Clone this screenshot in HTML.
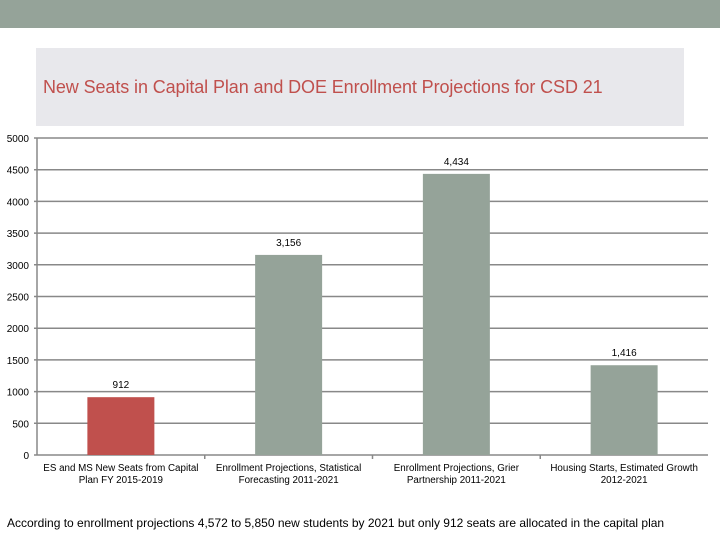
<!DOCTYPE html>
<html><head><meta charset="utf-8"><style>
body{margin:0;width:720px;height:540px;background:#fff;overflow:hidden;font-family:"Liberation Sans",sans-serif;position:relative}
</style></head><body>
<div style="position:absolute;left:0;top:0;width:720px;height:28px;background:#95a399"></div>
<div style="position:absolute;left:36px;top:48px;width:648px;height:78px;background:#e8e8ec"></div>
<div style="position:absolute;left:43px;top:77px;font-size:18px;color:#c0504d;letter-spacing:-0.1px;white-space:nowrap">New Seats in Capital Plan and DOE Enrollment Projections for CSD 21</div>
<svg width="720" height="540" style="position:absolute;left:0;top:0" id="svg"></svg>
<div style="position:absolute;left:7px;top:516px;font-size:12px;color:#000;letter-spacing:0px;white-space:nowrap">According to enrollment projections 4,572 to 5,850 new students by 2021 but only 912 seats are allocated in the capital plan</div>
<script>
const categories=[["ES and MS New Seats from Capital","Plan FY 2015-2019"],["Enrollment Projections, Statistical","Forecasting 2011-2021"],["Enrollment Projections, Grier","Partnership 2011-2021"],["Housing Starts, Estimated Growth","2012-2021"]];
const values=[912,3156,4434,1416];
const valueLabels=["912","3,156","4,434","1,416"];
const barColors=["#c0504d","#95a399","#95a399","#95a399"];
const yTicks=[0,500,1000,1500,2000,2500,3000,3500,4000,4500,5000];
const svg=document.getElementById('svg');
const NS='http://www.w3.org/2000/svg';
const x0=37,x1=708,y0=455,y1=138,yMax=5000;
const y=v=>y0-(v/yMax)*(y0-y1);
const band=(x1-x0)/categories.length;
const xc=i=>x0+band*(i+0.5);
function mk(t,a){const e=document.createElementNS(NS,t);for(const k in a)e.setAttribute(k,a[k]);svg.appendChild(e);return e;}
yTicks.forEach(v=>{
 const l=mk('line',{x1:x0-3,x2:x1,y1:y(v),y2:y(v),stroke:'#888',"stroke-width":1.5});
 
 
 const t=mk('text',{x:29,y:y(v)+4,"text-anchor":"end","font-size":10,fill:'#000'});t.textContent=v;
 
 
});
const ax=mk('line',{x1:x0,x2:x0,y1:y1,y2:y0,stroke:'#888',"stroke-width":1.5});


for(let i=1;i<categories.length;i++){const tk=mk('line',{x1:x0+band*i,x2:x0+band*i,y1:y0,y2:y0+4,stroke:'#888',"stroke-width":1.5});
 
 }
const bw=67;
values.forEach((v,i)=>{
 const r=mk('rect',{x:xc(i)-bw/2,y:y(v),width:bw,height:y0-y(v),fill:barColors[i]});
 
 
 const t=mk('text',{x:xc(i),y:y(v)-9,"text-anchor":"middle","font-size":10,fill:'#000'});t.textContent=valueLabels[i];
 
 
 categories[i].forEach((s,j)=>{const c=mk('text',{x:xc(i),y:471+j*12,"text-anchor":"middle","font-size":9.8,fill:'#000'});c.textContent=s;
  
  });
});
</script>
</body></html>
